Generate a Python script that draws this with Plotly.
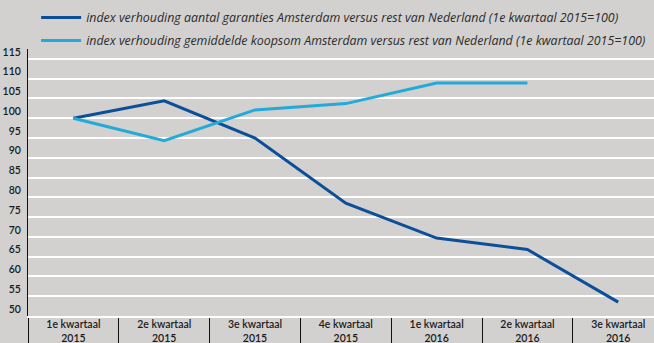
import plotly.graph_objects as go

categories = ["1e kwartaal<br>2015", "2e kwartaal<br>2015", "3e kwartaal<br>2015", "4e kwartaal<br>2015",
              "1e kwartaal<br>2016", "2e kwartaal<br>2016", "3e kwartaal<br>2016"]
garanties = [100, 104.4, 95.0, 78.5, 69.7, 66.8, 53.5]
koopsom = [100, 94.3, 102.1, 103.7, 108.9, 108.9, None]
name_garanties = "index verhouding aantal garanties Amsterdam versus rest van Nederland (1e kwartaal 2015=100)"
name_koopsom = "index verhouding gemiddelde koopsom Amsterdam versus rest van Nederland (1e kwartaal 2015=100)"
ytick_vals = list(range(50, 116, 5))

BG = "#d2d1d0"
DARK = "#0b4f9a"
LIGHT = "#22aad8"

fig = go.Figure()
fig.add_trace(go.Scatter(x=categories, y=garanties, mode="lines", name=name_garanties,
                         line=dict(color=DARK, width=3), legend="legend"))
fig.add_trace(go.Scatter(x=categories, y=koopsom, mode="lines", name=name_koopsom,
                         line=dict(color=LIGHT, width=3), legend="legend2"))

H, T, B = 343, 49, 27
ph = H - T - B
def py(px):
    return (H - B - px) / ph

legend_style = dict(x=0.013, xanchor="left", yanchor="middle", bgcolor="rgba(0,0,0,0)",
                    font=dict(family="Open Sans", size=12.4, color="#2b2b2b", style="italic"),
                    itemwidth=40, borderwidth=0)

fig.update_layout(
    width=654, height=343,
    margin=dict(l=28, r=0, t=T, b=B, autoexpand=False),
    paper_bgcolor=BG, plot_bgcolor=BG,
    showlegend=True,
    legend=dict(y=py(18), **legend_style),
    legend2=dict(y=py(41), **legend_style),
    xaxis=dict(type="category", range=[-0.5, 6.394], tickson="boundaries", ticks="outside",
               ticklen=30, tickcolor="#111111", tickwidth=1, showgrid=False,
               showline=True, linecolor="white", linewidth=1.5,
               ticklabelstandoff=-2,
               tickfont=dict(family="Lato", size=10.5, color="#1a1a1a", weight=600),
               fixedrange=True),
    yaxis=dict(range=[50, 117.5], tickvals=ytick_vals, showgrid=True, gridcolor="white",
               gridwidth=1.5, showline=True, linecolor="#111111", linewidth=1,
               zeroline=False, ticks="", ticklabelshift=-7, ticklabelstandoff=4,
               tickfont=dict(family="Lato", size=10.5, color="#1a1a1a", weight=600),
               fixedrange=True),
)

fig.write_html("out.html")
